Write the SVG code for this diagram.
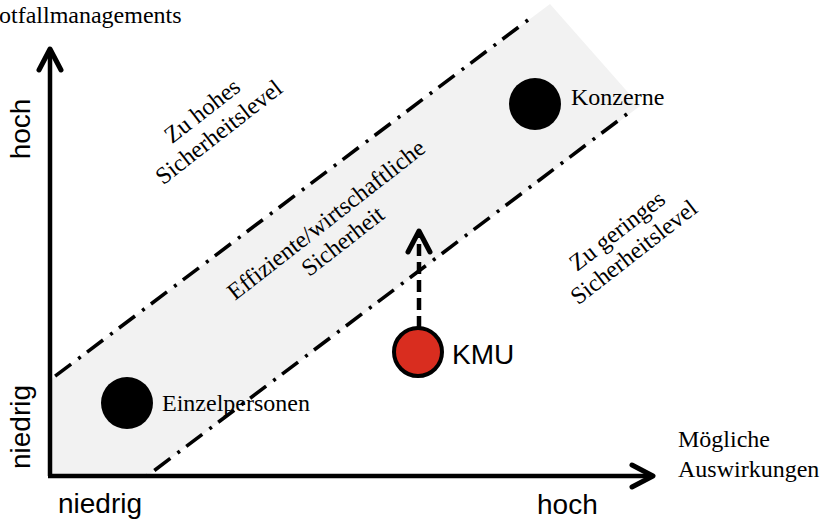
<svg xmlns="http://www.w3.org/2000/svg" width="828" height="524" viewBox="0 0 828 524">
<style>
.serif{font-family:"Liberation Serif","Times New Roman",serif;font-size:24px;fill:#000}
.sans{font-family:"Liberation Sans",Arial,sans-serif;font-size:28px;fill:#000}
.dd{fill:none;stroke:#000;stroke-width:3.6;stroke-dasharray:3 9 20 8}
.axis{fill:none;stroke:#000;stroke-width:4.5;marker-end:url(#chev)}
.dot{fill:#000}
</style>
<defs>
<marker id="chev" markerUnits="userSpaceOnUse" markerWidth="30" markerHeight="30" refX="0" refY="0" orient="auto" overflow="visible">
<path d="M-21,-11 L0,0 L-21,11" fill="none" stroke="#000" stroke-width="5" stroke-linecap="round" stroke-linejoin="round"/>
</marker>
</defs>
<rect width="828" height="524" fill="#fff"/>
<g id="band">
<polygon points="50,380 550,4 640,106 147,476 50,476" fill="#f2f2f2"/>
<path class="dd" d="M528,20 L50,380"/>
<path class="dd" d="M627,114 L147,476"/>
</g>
<g id="connectors">
<path class="axis" d="M50,476 L50,49"/>
<path class="axis" d="M48,476 L653,476"/>
<path d="M419,328 L419,231" fill="none" stroke="#000" stroke-width="4.5" stroke-dasharray="12 6" marker-end="url(#chev)"/>
</g>
<g id="einzelpersonen">
<circle class="dot" cx="127" cy="403" r="26"/>
<text class="serif" x="162" y="411">Einzelpersonen</text>
</g>
<g id="konzerne">
<circle class="dot" cx="535" cy="104" r="26"/>
<text class="serif" x="571" y="105">Konzerne</text>
</g>
<g id="kmu">
<circle cx="418" cy="352" r="24" fill="#d92d1f" stroke="#000" stroke-width="4"/>
<text class="sans" x="452" y="364">KMU</text>
</g>
<g id="labels">
<text class="serif" x="-1" y="23">otfallmanagements</text>
<text class="serif" x="678" y="447">Mögliche</text>
<text class="serif" x="678" y="477">Auswirkungen</text>
<text class="sans" x="537" y="514">hoch</text>
<text class="sans" x="58" y="513">niedrig</text>
<text class="sans" text-anchor="middle" transform="translate(30,129) rotate(-90)">hoch</text>
<text class="sans" text-anchor="middle" transform="translate(30,427) rotate(-90)">niedrig</text>
<text class="serif" text-anchor="middle" transform="translate(207,117) rotate(-38)"><tspan x="0" y="0">Zu hohes</tspan><tspan x="0" y="27">Sicherheitslevel</tspan></text>
<text class="serif" text-anchor="middle" transform="translate(331,226) rotate(-38)"><tspan x="0" y="0">Effiziente/wirtschaftliche</tspan><tspan x="0" y="27">Sicherheit</tspan></text>
<text class="serif" text-anchor="middle" transform="translate(622,237) rotate(-38)"><tspan x="0" y="0">Zu geringes</tspan><tspan x="0" y="27">Sicherheitslevel</tspan></text>
</g>
</svg>
